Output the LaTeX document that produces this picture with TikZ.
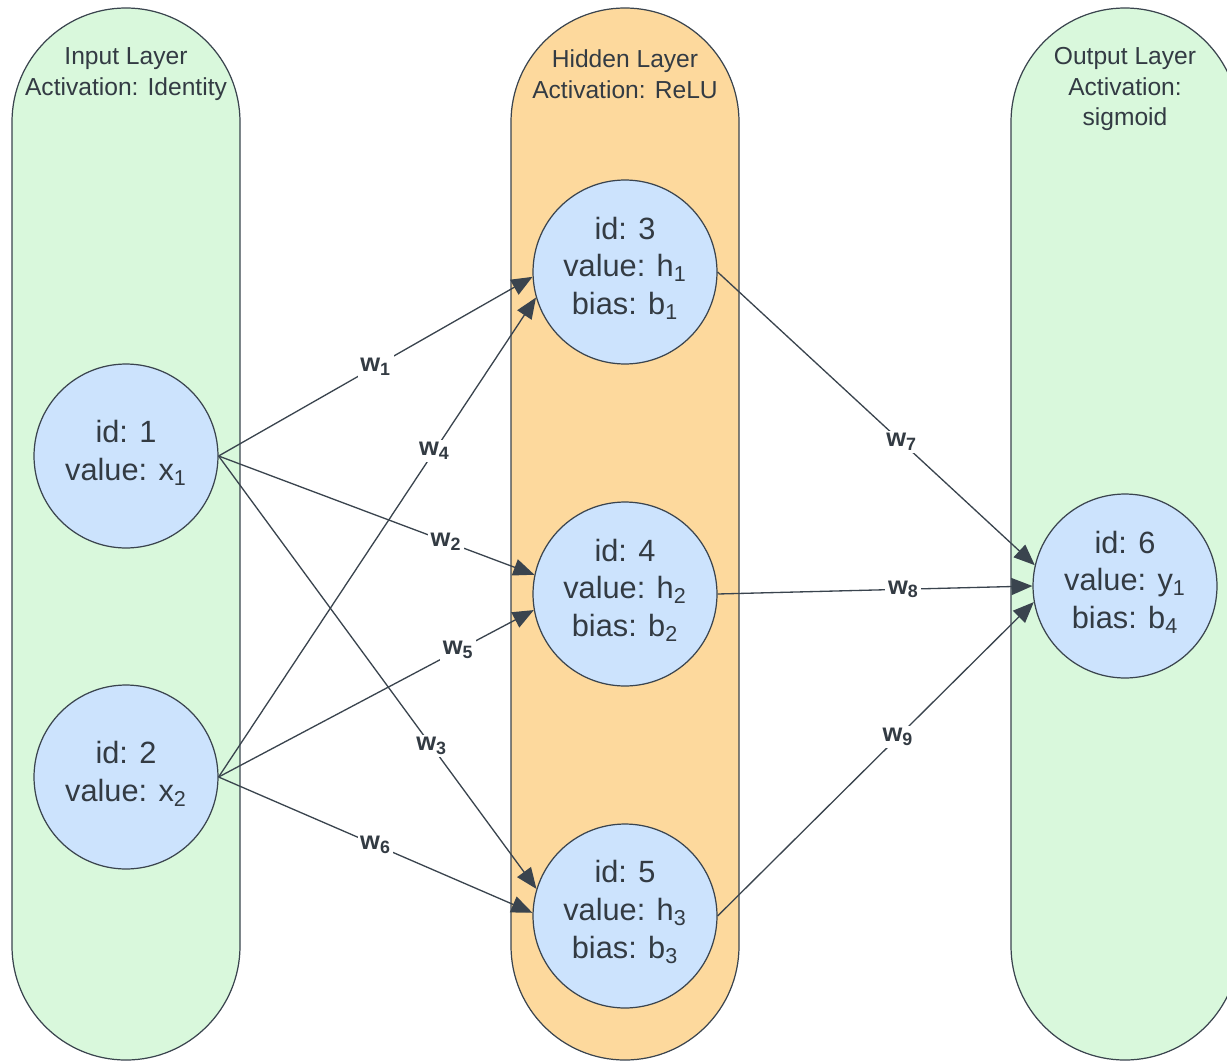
\documentclass[tikz,border=0pt]{standalone}
\usepackage{fontspec}
\setmainfont{Liberation Sans}
\usetikzlibrary{arrows.meta}
\definecolor{lgreen}{HTML}{D9F8DC}
\definecolor{lorange}{HTML}{FDD99D}
\definecolor{lblue}{HTML}{CCE3FD}
\definecolor{edgec}{HTML}{3A444E}
\definecolor{txt}{HTML}{333B43}
\begin{document}
\begin{tikzpicture}[x=0.02cm,y=-0.02cm,
  layer/.style={draw=edgec, line width=0.7pt, rounded corners=2.28cm},
  neuron/.style={circle, draw=edgec, fill=lblue, line width=0.7pt, minimum size=3.68cm, inner sep=0pt, align=center, font=\fontsize{17.5}{21.5}\selectfont, text=txt},
  ntext/.style={align=center, font=\fontsize{17.5}{21.5}\selectfont, text=txt, inner sep=0pt},
  title/.style={align=center, font=\fontsize{14}{17.6}\selectfont, text=txt},
  conn/.style={draw=edgec, line width=0.75pt, -{Triangle[length=0.42cm,width=0.34cm]}},
  wlab/.style={fill=white, inner sep=1.5pt, font=\bfseries\fontsize{14.5}{14.5}\selectfont, text=txt}]
\useasboundingbox (0,0) rectangle (1227,1061);
\clip (0,0) rectangle (1227,1061);
% layers
\path[layer, fill=lgreen] (12,8) rectangle (240,1060);
\path[layer, fill=lorange] (511,8) rectangle (739,1060);
\path[layer, fill=lgreen] (1011,8) rectangle (1239,1060);
\node[title] (t1) at (126,74) {Input Layer\\Activation: Identity};
\node[title] (t2) at (625,74) {Hidden Layer\\Activation: ReLU};
\node[title] (t3) at (1125,89) {Output Layer\\Activation:\\sigmoid};
% neurons
\node[neuron] (n1) at (126,456) {};
\node[neuron] (n2) at (126,777) {};
\node[neuron] (n3) at (625,272) {};
\node[neuron] (n4) at (625,594) {};
\node[neuron] (n5) at (625,916) {};
\node[neuron] (n6) at (1125,586) {};
\node[ntext] (l1) at (126,453) {id: 1\\value: x\textsubscript{1}};
\node[ntext] (l2) at (126,774) {id: 2\\value: x\textsubscript{2}};
\node[ntext] (l3) at (625,268) {id: 3\\value: h\textsubscript{1}\\bias: b\textsubscript{1}};
\node[ntext] (l4) at (625,590) {id: 4\\value: h\textsubscript{2}\\bias: b\textsubscript{2}};
\node[ntext] (l5) at (625,912) {id: 5\\value: h\textsubscript{3}\\bias: b\textsubscript{3}};
\node[ntext] (l6) at (1125,582) {id: 6\\value: y\textsubscript{1}\\bias: b\textsubscript{4}};
% connections
\draw[conn] (n1.east) -- node[wlab,pos=0.5]{w\textsubscript{1}} (n3.183);
\draw[conn] (n1.east) -- node[wlab,pos=0.72]{w\textsubscript{2}} (n4.168);
\draw[conn] (n1.east) -- node[wlab,pos=0.67]{w\textsubscript{3}} (n5.163);
\draw[conn] (n2.east) -- node[wlab,pos=0.68]{w\textsubscript{4}} (n3.196);
\draw[conn] (n2.east) -- node[wlab,pos=0.76]{w\textsubscript{5}} (n4.190);
\draw[conn] (n2.east) -- node[wlab,pos=0.5]{w\textsubscript{6}} (n5.178);
\draw[conn] (n3.east) -- node[wlab,pos=0.58]{w\textsubscript{7}} (n6.167);
\draw[conn] (n4.east) -- node[wlab,pos=0.59]{w\textsubscript{8}} (n6.180);
\draw[conn] (n5.east) -- node[wlab,pos=0.57]{w\textsubscript{9}} (n6.190);
\end{tikzpicture}
\end{document}
